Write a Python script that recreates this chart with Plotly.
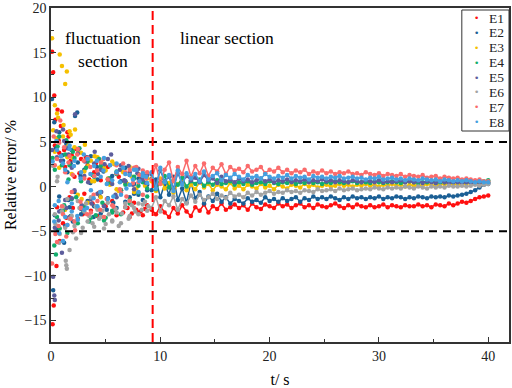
import plotly.graph_objects as go

series_names = ["E1", "E2", "E3", "E4", "E5", "E6", "E7", "E8"]
series_colors = ["#ff1010", "#1b5f95", "#f5c000", "#12ad6c", "#5d5d9c", "#a3a3a3", "#fa6b6b", "#459fe0"]

# ---- fluctuation section (0 - 9 s): per-series times and values ----
fl_t = {
    "E1": [0.1,0.15,0.2,0.25,0.3,0.4,0.5,0.6,0.7,0.8,0.9,1.0,1.2,1.4,1.6,1.8,2.0,2.3,2.6,2.9,3.2,3.5,3.8,4.1,4.4,4.7,5.0,5.4,5.8,6.2,6.6,7.0,7.4,7.8,8.2,8.6],
    "E2": [0.1,0.2,0.3,0.45,0.6,0.75,0.9,1.05,1.2,1.4,1.6,1.8,2.0,2.2,2.4,2.7,3.0,3.3,3.6,3.9,4.2,4.5,4.8,5.1,5.4,5.7,6.0,6.4,6.8,7.2,7.6,8.0,8.4,8.8],
    "E3": [0.1,0.2,0.35,0.5,0.65,0.8,1.0,1.15,1.3,1.45,1.6,1.8,2.0,2.2,2.5,2.8,3.1,3.4,3.7,4.0,4.3,4.6,5.0,5.4,5.8,6.2,6.6,7.0,7.4,7.8,8.2,8.6],
    "E4": [0.15,0.3,0.45,0.6,0.8,1.0,1.2,1.4,1.6,1.8,2.0,2.3,2.6,2.9,3.2,3.5,3.8,4.1,4.4,4.7,5.0,5.3,5.6,6.0,6.4,6.8,7.2,7.6,8.0,8.4,8.8],
    "E5": [0.1,0.2,0.3,0.35,0.5,0.7,0.9,1.0,1.2,1.4,1.6,1.9,2.2,2.5,2.8,3.1,3.4,3.7,4.0,4.3,4.6,4.9,5.2,5.5,5.9,6.3,6.7,7.1,7.5,7.9,8.3,8.7],
    "E6": [0.2,0.4,0.6,0.8,1.0,1.35,1.4,1.45,1.7,2.0,2.3,2.6,2.9,3.2,3.5,3.8,4.1,4.4,4.7,5.0,5.3,5.6,5.9,6.2,6.5,6.8,7.1,7.4,7.7,8.0,8.3,8.6,8.9],
    "E7": [0.1,0.25,0.4,0.55,0.7,0.85,1.0,1.2,1.4,1.6,1.8,2.0,2.2,2.4,2.7,3.0,3.3,3.6,3.9,4.2,4.5,4.8,5.1,5.4,5.7,6.0,6.3,6.6,6.9,7.2,7.5,7.8,8.1,8.4,8.7],
    "E8": [0.15,0.3,0.5,0.7,0.9,1.1,1.3,1.5,1.7,1.9,2.1,2.4,2.7,3.0,3.3,3.6,3.9,4.2,4.5,4.8,5.1,5.4,5.7,6.0,6.3,6.6,6.9,7.2,7.5,7.8,8.1,8.4,8.7],
}
fl_v = {
    "E1": [15.1,-15.4,12.8,-13.3,10.2,7.5,-8.9,8.6,5.2,-6.1,6.8,8.4,4.1,-3.5,5.6,2.9,-2.4,4.2,1.5,-3.1,3.3,0.8,-1.9,2.6,-0.7,1.9,-2.2,0.4,-2.6,1.1,-2.9,-2.4,-3.0,-2.6,-2.8,-2.5],
    "E2": [9.8,-11.6,7.2,4.3,-4.8,6.1,-2.7,3.5,-6.3,4.8,-1.5,2.6,-3.9,7.9,8.3,1.2,-2.8,3.1,0.4,-3.4,2.2,-1.1,1.7,-2.6,0.9,-1.8,1.5,-0.6,2.1,-1.2,0.3,-0.9,1.4,-0.4],
    "E3": [16.6,6.3,9.1,5.4,7.7,14.8,13.5,6.9,11.5,12.9,4.6,5.8,3.2,6.4,3.9,-1.4,4.7,2.3,0.6,3.4,-0.8,2.7,1.8,0.2,2.5,-0.5,1.6,0.3,1.1,-0.2,0.7,0.1],
    "E4": [3.2,-6.6,-7.6,4.5,-4.7,2.4,-2.1,5.2,0.8,-3.3,3.9,-1.2,4.3,-2.6,2.1,-3.9,1.3,-3.2,3.1,-1.8,-3.5,0.9,-2.9,1.7,-0.4,0.6,-1.5,0.9,0.1,0.5,-0.2],
    "E5": [4.1,-10.1,-12.2,-12.7,6.2,-3.8,2.9,-7.4,5.1,-2.4,3.6,-1.3,8.1,4.2,-2.1,2.8,0.5,-1.9,3.9,1.4,-0.6,2.5,0.8,3.6,-0.9,1.9,0.7,2.3,0.2,1.5,0.9,0.4],
    "E6": [2.3,-4.2,1.1,-5.3,-2.8,-8.3,-8.8,-9.2,-3.6,-5.1,-5.8,-2.4,-4.6,-1.9,-3.3,-4.1,-2.2,-3.6,-2.7,-4.2,-3.1,-3.8,-2.5,-4.4,-3.0,-2.3,-3.6,-2.1,-2.8,-1.9,-2.6,-1.7,-2.2],
    "E7": [-8.6,5.6,-5.3,3.1,-4.4,7.4,-2.2,4.4,-5.6,2.7,-3.6,1.3,-4.9,3.6,-1.7,2.9,-3.1,2.2,-0.9,1.8,-2.6,3.1,-1.4,2.4,-2.2,1.5,-0.3,2.6,-1.1,1.9,0.4,2.2,1.3,1.8,0.9],
    "E8": [2.8,-3.9,5.1,-1.6,3.4,-6.1,1.9,-4.3,4.2,-2.8,2.3,-3.3,0.9,3.6,-2.4,1.4,-1.3,2.9,-0.6,1.8,0.3,2.4,-1.1,1.6,0.5,2.1,-0.2,1.3,0.8,1.9,0.6,1.5,1.1],
}

# second batch of fluctuation-section samples (shared times)
fl2_t = [0.35,0.55,0.75,1.1,1.3,1.5,1.7,1.9,2.15,2.45,
         2.75,3.05,3.35,3.65,3.95,4.25,4.55,4.85,5.2,5.6,
         6.0,6.4,6.8,7.2,7.6,8.0,8.4,8.8]
fl2_v = {
    "E1": [4.6,-2.3,3.8,-4.1,2.2,6.1,-1.2,3.5,1.1,-3.6,3.1,-0.8,2.4,-2.7,1.6,-3.3,0.7,-2.1,2.2,-1.6,-3.2,-0.4,-2.3,-3.4,-1.8,-2.9,-3.2,-2.1],
    "E2": [-3.2,5.4,-1.1,2.9,-4.4,1.6,-2.3,4.1,-0.6,2.7,-3.1,1.9,-1.6,3.4,-2.2,0.8,-3.0,2.1,-1.3,1.2,-2.4,0.6,-1.7,1.3,-0.8,0.9,-1.5,0.2],
    "E3": [3.9,8.2,2.1,5.6,-2.6,3.3,6.2,1.4,4.4,-0.9,3.8,1.7,-1.8,2.9,0.6,3.3,-1.2,2.1,0.9,2.8,-0.3,1.9,0.4,2.2,-0.6,1.4,0.6,0.9],
    "E4": [1.9,-3.4,5.6,-2.7,3.6,-5.2,2.4,-1.4,3.2,-4.1,0.6,-2.2,2.8,-3.5,1.1,-2.4,2.3,-3.8,0.4,-2.7,1.4,-3.1,0.2,-1.9,1.1,-0.7,0.6,-1.1],
    "E5": [-4.6,3.3,-2.8,6.4,-1.5,4.3,-3.4,2.1,-0.4,3.7,-2.5,1.2,3.3,-1.4,2.6,-0.8,1.9,-2.2,3.1,0.3,-1.2,2.4,0.6,1.6,-0.3,2.0,0.8,1.3],
    "E6": [-3.1,0.6,-6.3,-2.2,-4.6,-1.4,-7.1,-3.3,-4.4,-1.6,-5.2,-2.8,-3.9,-1.2,-4.5,-2.6,-3.4,-4.7,-1.8,-3.9,-2.9,-4.1,-1.9,-3.3,-2.4,-3.1,-2.0,-2.7],
    "E7": [2.4,-6.2,4.9,-3.1,1.6,-4.3,3.4,-0.6,-3.9,4.2,-2.4,0.9,3.2,-2.9,1.2,-1.6,2.7,-3.4,0.8,-2.1,2.4,-0.7,1.6,-1.6,2.1,0.5,-0.9,1.6],
    "E8": [-2.1,4.1,-5.2,2.6,-3.4,0.5,4.6,-1.9,2.9,-3.7,1.6,-2.6,3.1,-0.4,2.3,-2.2,1.1,3.2,-1.4,0.7,2.6,-0.9,1.4,0.2,1.9,-0.6,1.2,0.4],
}

# ---- linear section (9.2 - 40 s): shared sample times ----
lin_t = [9.2,9.6,10.0,10.4,10.8,11.2,11.6,12.0,12.4,12.8,
         13.2,13.6,14.0,14.4,14.8,15.2,15.6,16.0,16.4,16.8,
         17.2,17.6,18.0,18.4,18.8,19.2,19.6,20.0,20.4,20.8,
         21.2,21.6,22.0,22.4,22.8,23.2,23.6,24.0,24.4,24.8,
         25.2,25.6,26.0,26.4,26.8,27.2,27.6,28.0,28.4,28.8,
         29.2,29.6,30.0,30.4,30.8,31.2,31.6,32.0,32.4,32.8,
         33.2,33.6,34.0,34.4,34.8,35.2,35.6,36.0,36.4,36.8,
         37.2,37.6,38.0,38.4,38.8,39.2,39.6,40.0]
lin_v = {
    "E1": [-2.6,-3.1,-2.2,-2.9,-3.4,-2.4,-3.0,-2.1,-2.8,-3.3,
           -2.3,-2.7,-2.0,-2.9,-2.2,-2.5,-1.9,-2.6,-2.3,-2.0,
           -2.4,-2.1,-2.6,-1.9,-2.3,-2.5,-2.0,-2.2,-2.4,-1.9,
           -2.2,-2.0,-2.4,-2.1,-1.9,-2.3,-2.1,-2.4,-2.0,-2.2,
           -2.3,-2.1,-1.9,-2.2,-2.4,-2.1,-2.3,-2.0,-2.2,-2.3,
           -2.1,-2.3,-2.2,-2.0,-2.3,-2.1,-2.2,-2.3,-2.1,-2.2,
           -2.2,-2.0,-2.2,-2.1,-2.3,-2.0,-2.1,-2.2,-1.9,-2.1,
           -1.9,-1.7,-1.8,-1.6,-1.4,-1.2,-1.1,-1.0],
    "E2": [-0.4,0.8,-1.2,0.3,-0.9,1.1,-1.5,-0.2,-1.8,0.5,
           -1.3,-0.6,-1.9,-1.1,-1.6,-0.8,-1.7,-1.2,-1.9,-1.4,
           -1.6,-1.9,-1.3,-1.7,-1.5,-1.8,-1.2,-1.6,-1.4,-1.7,
           -1.3,-1.6,-1.4,-1.2,-1.7,-1.3,-1.5,-1.1,-1.4,-1.2,
           -1.4,-1.1,-1.3,-1.5,-1.2,-1.4,-1.1,-1.3,-1.2,-1.4,
           -1.2,-1.3,-1.1,-1.4,-1.2,-1.3,-1.1,-1.2,-1.4,-1.2,
           -1.3,-1.1,-1.2,-1.3,-1.1,-1.2,-1.1,-1.2,-1.0,-1.1,
           -1.0,-0.9,-0.8,-0.6,-0.4,-0.1,0.2,0.3],
    "E3": [0.6,-0.5,0.9,-0.2,0.4,-0.7,0.3,0.8,-0.4,0.2,
           -0.3,0.5,-0.1,0.3,-0.4,0.2,0.0,-0.3,0.4,-0.2,
           0.1,-0.3,0.2,0.0,-0.2,0.3,-0.1,0.1,-0.3,0.2,
           0.0,-0.2,0.2,0.1,-0.1,0.3,0.0,0.2,-0.1,0.1,
           0.2,0.0,0.1,0.3,0.1,0.2,0.0,0.2,0.1,0.3,
           0.1,0.2,0.0,0.2,0.1,0.3,0.1,0.2,0.0,0.2,
           0.1,0.2,0.1,0.3,0.2,0.1,0.2,0.3,0.2,0.3,
           0.2,0.3,0.3,0.4,0.3,0.4,0.4,0.5],
    "E4": [0.9,-0.3,0.5,1.2,-0.1,0.7,0.2,1.0,0.0,0.6,
           0.3,0.8,0.1,0.5,0.2,0.7,0.3,0.4,0.6,0.2,
           0.5,0.3,0.6,0.2,0.4,0.5,0.3,0.6,0.4,0.3,
           0.5,0.4,0.6,0.3,0.5,0.4,0.6,0.4,0.5,0.3,
           0.5,0.4,0.6,0.5,0.4,0.5,0.6,0.4,0.5,0.5,
           0.4,0.6,0.5,0.4,0.5,0.6,0.5,0.4,0.5,0.6,
           0.5,0.4,0.5,0.5,0.6,0.4,0.5,0.5,0.6,0.5,
           0.5,0.6,0.5,0.6,0.5,0.6,0.6,0.7],
    "E5": [1.4,0.2,1.8,0.6,1.1,-0.2,1.5,0.4,1.2,0.7,
           1.0,0.5,1.3,0.7,0.9,0.4,1.1,0.6,0.8,0.5,
           0.9,0.6,0.8,0.5,0.7,0.9,0.6,0.8,0.5,0.7,
           0.6,0.8,0.5,0.7,0.6,0.8,0.5,0.7,0.6,0.8,
           0.6,0.7,0.5,0.7,0.6,0.5,0.7,0.6,0.5,0.7,
           0.6,0.5,0.7,0.5,0.6,0.5,0.6,0.7,0.5,0.6,
           0.5,0.6,0.4,0.6,0.5,0.4,0.6,0.5,0.4,0.5,
           0.5,0.4,0.5,0.4,0.5,0.4,0.5,0.4],
    "E6": [-2.4,-1.2,-2.8,-1.6,-2.1,-1.1,-2.6,-1.4,-1.9,-1.0,
           -1.7,-0.9,-1.5,-1.2,-0.8,-1.4,-1.0,-1.3,-0.7,-1.1,
           -0.9,-1.2,-0.7,-1.0,-0.6,-0.9,-0.7,-0.5,-0.8,-0.6,
           -0.7,-0.4,-0.6,-0.5,-0.7,-0.4,-0.5,-0.6,-0.3,-0.5,
           -0.4,-0.3,-0.5,-0.2,-0.4,-0.3,-0.2,-0.4,-0.3,-0.2,
           -0.3,-0.1,-0.2,-0.3,-0.1,-0.2,-0.1,-0.2,0.0,-0.1,
           -0.2,0.0,-0.1,-0.2,0.0,-0.1,0.0,-0.1,0.1,0.0,
           0.0,0.1,0.0,0.1,0.2,0.1,0.2,0.3],
    "E7": [0.8,2.4,0.3,1.9,2.7,0.6,2.2,1.4,2.9,1.1,
           2.3,1.5,2.6,1.2,2.1,1.7,2.5,1.4,2.2,1.8,
           2.0,1.6,2.3,1.7,1.9,2.2,1.5,1.9,1.7,2.1,
           1.6,1.9,1.5,1.8,1.6,1.9,1.4,1.7,1.5,1.8,
           1.5,1.7,1.4,1.6,1.5,1.7,1.4,1.5,1.3,1.6,
           1.4,1.3,1.5,1.2,1.4,1.3,1.2,1.4,1.1,1.3,
           1.2,1.1,1.3,1.0,1.1,1.2,0.9,1.1,1.0,0.9,
           1.0,0.8,0.9,0.8,0.7,0.8,0.6,0.6],
    "E8": [1.6,-0.2,2.1,0.5,1.3,-0.5,1.8,0.2,1.5,0.9,
           1.4,0.6,1.7,0.8,1.2,1.5,0.7,1.3,1.0,1.4,
           1.1,0.8,1.3,1.0,1.2,0.9,1.4,1.1,0.9,1.2,
           1.0,1.3,0.9,1.2,1.0,1.1,0.8,1.2,1.0,1.1,
           0.9,1.1,1.0,1.2,0.9,1.0,1.1,0.9,1.0,0.8,
           1.0,0.9,1.1,0.8,0.9,1.0,0.8,0.9,0.7,0.9,
           0.8,0.7,0.9,0.8,0.7,0.8,0.6,0.8,0.7,0.6,
           0.7,0.6,0.7,0.6,0.5,0.6,0.5,0.5],
}

x_ticks = [0, 10, 20, 30, 40]
y_ticks = [-15, -10, -5, 0, 5, 10, 15, 20]
band_limits = [5, -5]
split_time = 9.3

FONT = "Liberation Serif, Times New Roman, serif"
W, H = 512, 388
M = dict(l=51, r=3, t=8, b=46)
plot_h = H - M["t"] - M["b"]

fig = go.Figure()
for name, color in zip(series_names, series_colors):
    # jagged band of the linear section
    fig.add_trace(go.Scatter(
        x=lin_t, y=lin_v[name], mode="lines", showlegend=False, legendgroup=name,
        hoverinfo="skip", line=dict(color=color, width=1.5),
    ))
    fig.add_trace(go.Scatter(
        x=fl_t[name] + fl2_t + lin_t,
        y=fl_v[name] + fl2_v[name] + lin_v[name],
        mode="markers", showlegend=False,
        name=name, legendgroup=name,
        marker=dict(color=color, size=4.5, line=dict(width=0)),
    ))

for yv in band_limits:
    fig.add_shape(type="line", xref="x domain", yref="y", x0=0, x1=1, y0=yv, y1=yv,
                  line=dict(color="black", width=2, dash="8px,6px"), layer="above")
fig.add_shape(type="line", xref="x", yref="y domain", x0=split_time, x1=split_time, y0=0, y1=1,
              line=dict(color="#ff0000", width=2, dash="9px,5px"), layer="above")

fig.add_annotation(x=4.8, y=15.4, text="fluctuation<br>section", showarrow=False,
                   font=dict(family=FONT, size=17.5, color="black"))
fig.add_annotation(x=16.1, y=16.6, text="linear section", showarrow=False,
                   font=dict(family=FONT, size=17.5, color="black"))

# compact boxed legend (top-right, inside the frame)
def py(px_from_top):
    return (H - M["b"] - px_from_top) / plot_h

leg_top, leg_bottom, leg_step, leg_first = 10, 131, 14.9, 18
fig.add_shape(type="rect", xref="paper", yref="paper", x0=0.897, x1=1.0,
              y0=py(leg_bottom), y1=py(leg_top),
              line=dict(color="#333", width=1), fillcolor="white", layer="above")
for i, (name, color) in enumerate(zip(series_names, series_colors)):
    yy = py(leg_first + leg_step * i)
    fig.add_annotation(xref="paper", yref="paper", x=0.928, y=yy, text="•", showarrow=False,
                       xanchor="center", yanchor="middle", borderpad=0,
                       font=dict(family="DejaVu Sans", size=9, color=color))
    fig.add_annotation(xref="paper", yref="paper", x=0.955, y=yy, text=name, showarrow=False,
                       xanchor="left", yanchor="middle", borderpad=0,
                       font=dict(family=FONT, size=13.5, color="#222"))

fig.update_layout(
    width=W, height=H,
    margin=dict(**M, autoexpand=False),
    paper_bgcolor="white", plot_bgcolor="white",
    font=dict(family=FONT, size=14, color="#222"),
    showlegend=False,
    xaxis=dict(range=[0, 41.9], tickvals=x_ticks, ticks="inside", ticklen=5, tickwidth=1,
               tickcolor="#333", showline=True, linecolor="#333", linewidth=1.5, mirror=True,
               showgrid=False, zeroline=False, automargin=False,
               minor=dict(dtick=5, tick0=0, ticks="inside", ticklen=3, tickcolor="#333"),
               title=dict(text="t/ s", font=dict(family=FONT, size=16, color="black"), standoff=12),
               tickfont=dict(family=FONT, size=14, color="#222")),
    yaxis=dict(range=[-17.4, 20], tickvals=y_ticks, ticks="inside", ticklen=5, tickwidth=1,
               tickcolor="#333", showline=True, linecolor="#333", linewidth=1.5, mirror=True,
               showgrid=False, zeroline=False, automargin=False,
               minor=dict(dtick=2.5, tick0=0, ticks="inside", ticklen=3, tickcolor="#333"),
               title=dict(text="Relative error/ %", font=dict(family=FONT, size=16, color="black"), standoff=4),
               tickfont=dict(family=FONT, size=14, color="#222")),
)

fig.write_html("out.html", config={"displayModeBar": False},
               post_script="document.body.style.margin='0';document.body.style.overflow='hidden';")
